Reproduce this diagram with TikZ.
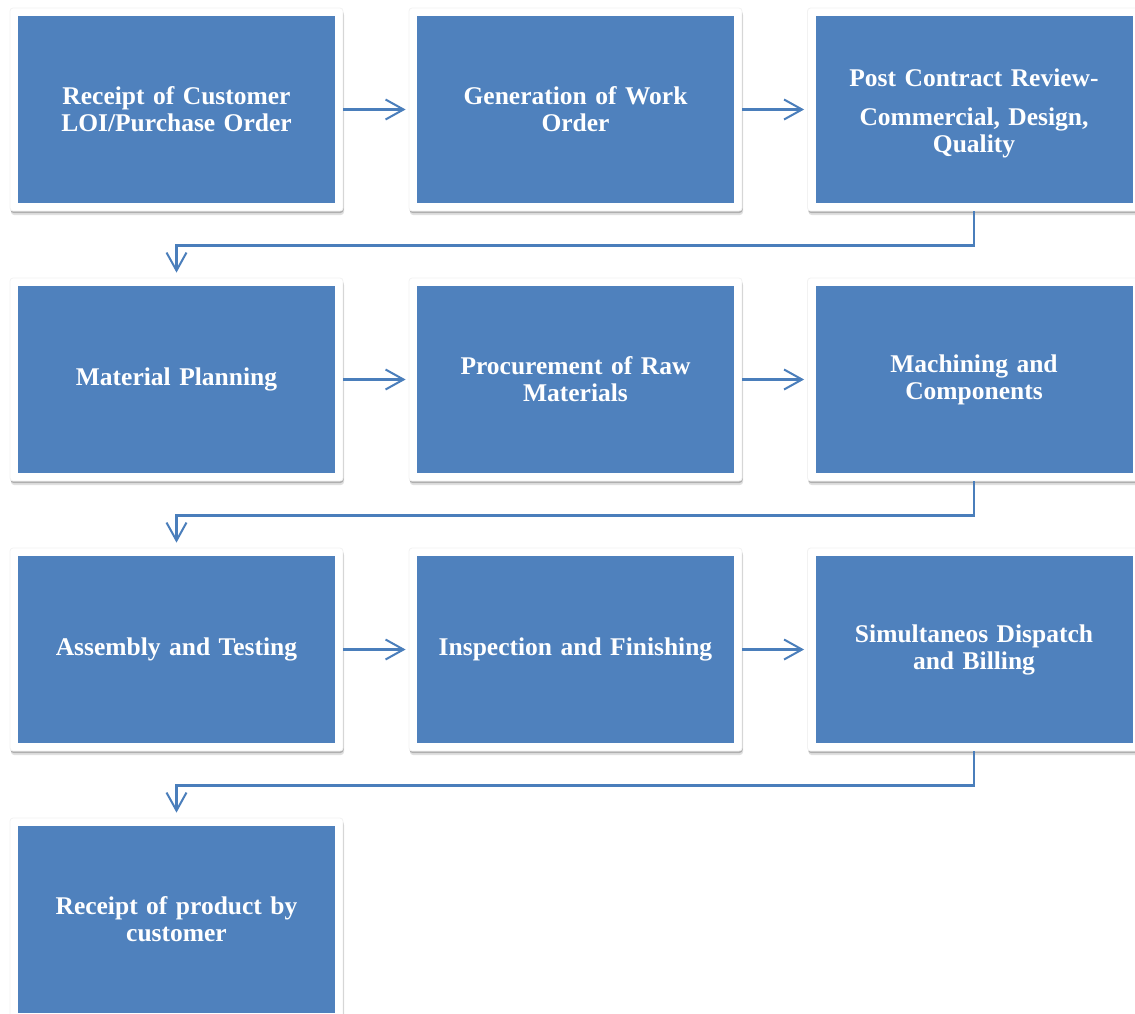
\documentclass[tikz,border=0pt]{standalone}
\usepackage{fontspec}
\setmainfont{Liberation Serif}
\usetikzlibrary{arrows.meta,shadows}
\definecolor{boxblue}{HTML}{4F81BD}
\definecolor{lineblue}{HTML}{4A7EBB}
\tikzset{
  stepbox/.style={
    rectangle, rounded corners=3pt, fill=white, draw=black!5, line width=0.8pt,
    minimum width=333pt, minimum height=203pt, inner sep=0pt,
    text width=310pt, align=center, text=white,
    font=\fontsize{25.5pt}{27pt}\selectfont\bfseries,
    drop shadow={shadow xshift=1pt, shadow yshift=-4pt, opacity=0.12, fill=black},
    drop shadow={shadow xshift=0.5pt, shadow yshift=-2pt, opacity=0.22, fill=black},
    path picture={\fill[boxblue, sharp corners] ([shift={(8pt,8pt)}]path picture bounding box.south west) rectangle ([shift={(-8pt,-8pt)}]path picture bounding box.north east);}
  },
  conn/.style={draw=lineblue, line width=2.2pt, -{Straight Barb[length=18pt,width=20pt,line width=2pt]}}
}
\begin{document}
\begin{tikzpicture}[x=1pt,y=-1pt]
\useasboundingbox (0,0) rectangle (1135,1014);
\node[stepbox] (r1) at (176.5,109.5) {Receipt of Customer\\LOI/Purchase Order};
\node[stepbox] (r2) at (575.5,109.5) {Generation of Work\\Order};
\node[stepbox] (r3) at (974,109.5) {\rule{0pt}{25pt}Post Contract Review-\\[12pt]Commercial, Design,\\Quality};
\node[stepbox] (r4) at (176.5,379.5) {Material Planning};
\node[stepbox] (r5) at (575.5,379.5) {Procurement of Raw\\Materials};
\node[stepbox] (r6) at (974,379.5) {Machining and\\Components};
\node[stepbox] (r7) at (176.5,649.5) {Assembly and Testing};
\node[stepbox] (r8) at (575.5,649.5) {Inspection and Finishing};
\node[stepbox] (r9) at (974,649.5) {Simultaneos Dispatch\\and Billing};
\node[stepbox] (r10) at (176.5,919.5) {Receipt of product by\\customer};
\draw[conn, shorten >=3pt] (r1.east) -- (r2.west);
\draw[conn, shorten >=3pt] (r2.east) -- (r3.west);
\draw[conn, shorten >=3pt] (r4.east) -- (r5.west);
\draw[conn, shorten >=3pt] (r5.east) -- (r6.west);
\draw[conn, shorten >=3pt] (r7.east) -- (r8.west);
\draw[conn, shorten >=3pt] (r8.east) -- (r9.west);
\draw[conn, shorten >=5pt] (r3.south) -- ++(0,34) -| (r4.north);
\draw[conn, shorten >=5pt] (r6.south) -- ++(0,34) -| (r7.north);
\draw[conn, shorten >=5pt] (r9.south) -- ++(0,34) -| (r10.north);
\end{tikzpicture}
\end{document}
